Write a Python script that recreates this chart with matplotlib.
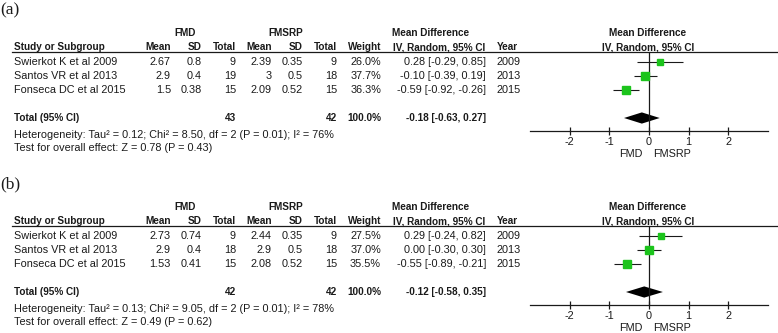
import numpy as np
import matplotlib
matplotlib.use("Agg")
import matplotlib.pyplot as plt

plt.rcParams['font.family'] = 'Liberation Sans'
plt.rcParams['axes.unicode_minus'] = False

studies = ["Swierkot K et al 2009", "Santos VR et al 2013", "Fonseca DC et al 2015"]
years = [2009, 2013, 2015]

# panel (a)
fmd_mean_a = [2.67, 2.9, 1.5]
fmd_sd_a = [0.8, 0.4, 0.38]
fmd_n_a = [9, 19, 15]
srp_mean_a = [2.39, 3, 2.09]
srp_sd_a = [0.35, 0.5, 0.52]
srp_n_a = [9, 18, 15]
weight_a = [26.0, 37.7, 36.3]
md_a = [0.28, -0.10, -0.59]
lo_a = [-0.29, -0.39, -0.92]
hi_a = [0.85, 0.19, -0.26]
total_a = (-0.18, -0.63, 0.27)
het_a = "Heterogeneity: Tau\u00b2 = 0.12; Chi\u00b2 = 8.50, df = 2 (P = 0.01); I\u00b2 = 76%"
eff_a = "Test for overall effect: Z = 0.78 (P = 0.43)"

# panel (b)
fmd_mean_b = [2.73, 2.9, 1.53]
fmd_sd_b = [0.74, 0.4, 0.41]
fmd_n_b = [9, 18, 15]
srp_mean_b = [2.44, 2.9, 2.08]
srp_sd_b = [0.35, 0.5, 0.52]
srp_n_b = [9, 18, 15]
weight_b = [27.5, 37.0, 35.5]
md_b = [0.29, 0.00, -0.55]
lo_b = [-0.24, -0.30, -0.89]
hi_b = [0.82, 0.30, -0.21]
total_b = (-0.12, -0.58, 0.35)
het_b = "Heterogeneity: Tau\u00b2 = 0.13; Chi\u00b2 = 9.05, df = 2 (P = 0.01); I\u00b2 = 78%"
eff_b = "Test for overall effect: Z = 0.49 (P = 0.62)"

ticks = [-2, -1, 0, 1, 2]

W, H = 778, 333
fig = plt.figure(figsize=(W / 100, H / 100), dpi=100)
tx = fig.add_axes([0, 0, 1, 1])
tx.set_xlim(0, W)
tx.set_ylim(H, 0)
tx.axis('off')

FS = 7.8   # normal text
FB = 7.2   # bold text
TC = '#1a1a1a'
GREEN = '#1cc41c'


def t(x, y, s, ha='left', bold=False, **kw):
    tx.text(x, y, s, ha=ha, va='center', fontsize=FB if bold else FS,
            color=TC, fontweight='bold' if bold else 'normal', **kw)


def panel(y0, tag, fm, fs, fn, sm, ss, sn, wt, md, lo, hi, tot, het, eff):
    tx.text(0, y0 - 23, tag, ha='left', va='center', fontsize=12.5,
            family='Liberation Serif', color=TC)
    # header
    t(185, y0, "FMD", 'center', True)
    t(286, y0, "FMSRP", 'center', True)
    t(392, y0, "Mean Difference", 'left', True)
    t(648, y0, "Mean Difference", 'center', True)
    h2 = y0 + 14
    t(14, h2, "Study or Subgroup", 'left', True)
    for x, s in [(171, "Mean"), (202, "SD"), (236, "Total"), (272, "Mean"),
                 (303, "SD"), (337, "Total"), (381, "Weight")]:
        t(x, h2, s, 'right', True)
    t(393, h2, "IV, Random, 95% CI", 'left', True)
    t(497, h2, "Year", 'left', True)
    t(648, h2, "IV, Random, 95% CI", 'center', True)
    tx.plot([12, W], [y0 + 19, y0 + 19], color=TC, lw=0.9)

    for i in range(len(studies)):
        y = y0 + 29 + 14 * i
        t(14, y, studies[i])
        t(171, y, f"{fm[i]:g}", 'right')
        t(202, y, f"{fs[i]:g}", 'right')
        t(236, y, f"{fn[i]}", 'right')
        t(272, y, f"{sm[i]:g}", 'right')
        t(303, y, f"{ss[i]:g}", 'right')
        t(337, y, f"{sn[i]}", 'right')
        t(381, y, f"{wt[i]:.1f}%", 'right')
        t(486, y, f"{md[i]:.2f} [{lo[i]:.2f}, {hi[i]:.2f}]", 'right')
        t(497, y, f"{years[i]}", 'left')

    yt = y0 + 85
    t(14, yt, "Total (95% CI)", 'left', True)
    t(236, yt, f"{sum(fn)}", 'right', True)
    t(337, yt, f"{sum(sn)}", 'right', True)
    t(381, yt, "100.0%", 'right', True)
    t(486, yt, f"{tot[0]:.2f} [{tot[1]:.2f}, {tot[2]:.2f}]", 'right', True)
    t(14, yt + 17, het)
    t(14, yt + 30, eff)
    t(643, yt + 36, "FMD", 'right')
    t(653, yt + 36, "FMSRP", 'left')

    # forest plot: rows 0..2 studies, 4 total
    top, bot = y0 + 19, y0 + 98
    ax = fig.add_axes([530 / W, 1 - bot / H, 238 / W, (bot - top) / H])
    ax.patch.set_alpha(0)
    ax.set_xlim(-3, 3)
    ax.set_ylim((bot - (y0 + 29)) / 14, (top - (y0 + 29)) / 14)
    for s in ['top', 'left', 'right']:
        ax.spines[s].set_visible(False)
    ax.spines['bottom'].set_color(TC)
    ax.spines['bottom'].set_linewidth(0.9)
    ax.set_yticks([])
    ax.set_xticks(ticks)
    ax.set_xticklabels([str(v) for v in ticks])
    ax.tick_params(axis='x', direction='inout', length=6, width=0.9,
                   colors=TC, labelsize=FS, pad=1.5)
    ax.axvline(0, color=TC, lw=0.9)
    rows = np.arange(len(md))
    ax.hlines(rows, lo, hi, color=TC, lw=0.8)
    for r in rows:
        ax.plot(md[r], r, 's', color=GREEN, mec=GREEN,
                ms=0.85 * np.sqrt(wt[r]))
    m, l, h = tot
    ax.fill([l, m, h, m], [4, 4 - 0.4, 4, 4 + 0.4], color='black', lw=0)


panel(33, "(a)", fmd_mean_a, fmd_sd_a, fmd_n_a, srp_mean_a, srp_sd_a, srp_n_a,
      weight_a, md_a, lo_a, hi_a, total_a, het_a, eff_a)
panel(207, "(b)", fmd_mean_b, fmd_sd_b, fmd_n_b, srp_mean_b, srp_sd_b, srp_n_b,
      weight_b, md_b, lo_b, hi_b, total_b, het_b, eff_b)

fig.savefig("out.png", dpi=100)
